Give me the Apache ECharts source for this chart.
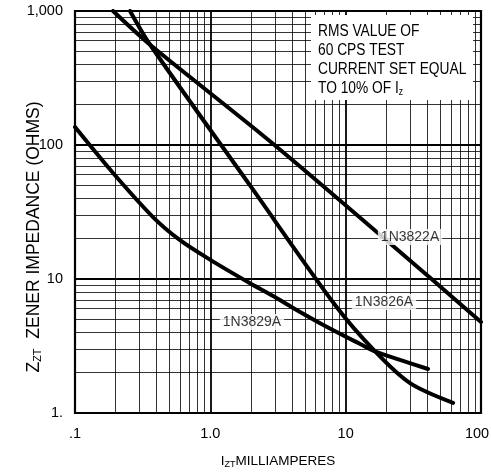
<!DOCTYPE html>
<html><head><meta charset="utf-8">
<script src="https://cdn.jsdelivr.net/npm/echarts@6/dist/echarts.min.js"></script>
<style>html,body{margin:0;padding:0;background:#fff}#c{width:491px;height:476px}</style>
</head><body><div id="c"></div>
<script>
// Data (x: I_ZT mA, y: Z_ZT ohms)
const s3822 = [[0.191,1000],[0.359,560],[2.86,103.5],[42.1,10.2],[100,4.78]];
const s3826 = [[0.255,1000],[0.359,560],[1.965,49.9],[8.35,6.40],[16.5,2.88],[29.9,1.67],[62.2,1.19]];
const s3829 = [[0.1,136],[0.191,61.8],[0.377,29],[0.597,19.5],[1.0,13.9],[1.965,9.3],[2.91,7.47],[4.09,6.08],[7.29,4.38],[12.8,3.27],[16.5,2.88],[25.2,2.49],[40.6,2.13]];
const curveLabels = [
  {name:'1N3822A', value:[29.9,20.6]},
  {name:'1N3826A', value:[19.2,6.74]},
  {name:'1N3829A', value:[2.03,4.78]}
];
const xTickLabels = {0.1:'.1', 1:'1.0', 10:'10', 100:'{r|100}'};
const yTickLabels = {1:'1.', 10:'10', 100:'100', 1000:'1,000'};
const xMinor = [0.2,0.3,0.4,0.5,0.6,0.7,0.8,0.9,2,3,4,5,6,7,8,9,20,30,40,50,60,70,80,90];
const yMinor = [2,3,4,5,6,7,8,9,20,30,40,50,60,70,80,90,200,300,400,500,600,700,800,900];
const noteLines = ['RMS VALUE OF','60 CPS TEST','CURRENT SET EQUAL','TO 10% OF {m|I}{s|z}'];

const FONT = '"Liberation Sans",Arial,sans-serif';
const chart = echarts.init(document.getElementById('c'), null, {renderer:'canvas'});
const lineSeries = (name, data) => ({
  name, type:'line', data, smooth:0.3, symbol:'none', silent:true,
  lineStyle:{color:'#000', width:4, cap:'round'}, z:5, animation:false
});
const richX = {
  m:{fontFamily:FONT, fontSize:13.5, color:'#000'},
  s:{fontFamily:FONT, fontSize:9, color:'#000', padding:[6,0,0,0]}
};
const richY = {
  m:{fontFamily:FONT, fontSize:17.5, color:'#000'},
  s:{fontFamily:FONT, fontSize:11, color:'#000', padding:[7,0,0,0]}
};
chart.setOption({
  backgroundColor:'#fff',
  animation:false,
  grid:{left:75, right:10, top:11, bottom:63, containLabel:false, outerBoundsMode:'none',
    show:true, borderColor:'#000', borderWidth:2.2, z:10},
  xAxis:{
    type:'log', logBase:10, min:0.1, max:100,
    axisLine:{show:false}, axisTick:{show:false},
    splitLine:{show:true, lineStyle:{color:'#000', width:1.8}},
    axisLabel:{fontFamily:FONT, fontSize:14.5, color:'#000', margin:13,
      rich:{r:{fontFamily:FONT, fontSize:14.5, color:'#000', padding:[0,8,0,0]}},
      formatter:v => xTickLabels[+v.toPrecision(6)] || ''},
    name:'{m|I}{s|ZT}{m|MILLIAMPERES}', nameLocation:'middle', nameGap:41, nameMoveOverlap:false,
    nameTextStyle:{rich:richX}
  },
  yAxis:{
    type:'log', logBase:10, min:1, max:1000,
    axisLine:{show:false}, axisTick:{show:false},
    splitLine:{show:true, lineStyle:{color:'#000', width:1.8}},
    axisLabel:{fontFamily:FONT, fontSize:14.5, color:'#000', margin:12,
      formatter:v => yTickLabels[+v.toPrecision(6)] || ''},
    name:'{m|Z}{s|ZT}{m|  ZENER IMPEDANCE (OHMS)}', nameLocation:'middle', nameGap:32, nameMoveOverlap:false,
    nameTextStyle:{rich:richY, padding:[0,50,0,0]}
  },
  graphic:[
    {type:'rect', left:311, top:15, z:100, shape:{width:162,height:85}, style:{fill:'#fff'}},
    {type:'text', x:318, y:22, z:101, scaleX:0.86, style:{
      text:noteLines.join('\n'), fontFamily:FONT, fontSize:16, lineHeight:19, fill:'#000',
      rich:{m:{fontFamily:FONT,fontSize:16,color:'#000',lineHeight:19}, s:{fontFamily:FONT,fontSize:10,color:'#000',padding:[7,0,0,0],lineHeight:19}}
    }}
  ],
  series:[
    Object.assign(lineSeries('1N3822A', s3822), {
      markLine:{silent:true, symbol:'none', animation:false, label:{show:false},
        lineStyle:{color:'#000', width:0.8, type:'solid'},
        data: xMinor.map(v=>({xAxis:v})).concat(yMinor.map(v=>({yAxis:v})))}
    }),
    lineSeries('1N3826A', s3826),
    lineSeries('1N3829A', s3829),
    {type:'scatter', data:curveLabels, symbolSize:0, silent:true, z:8, animation:false,
      label:{show:true, position:'inside', formatter:p=>p.name, fontFamily:FONT, fontSize:14,
        color:'#000', backgroundColor:'#fff', padding:[1,3]}}
  ]
});
</script></body></html>
